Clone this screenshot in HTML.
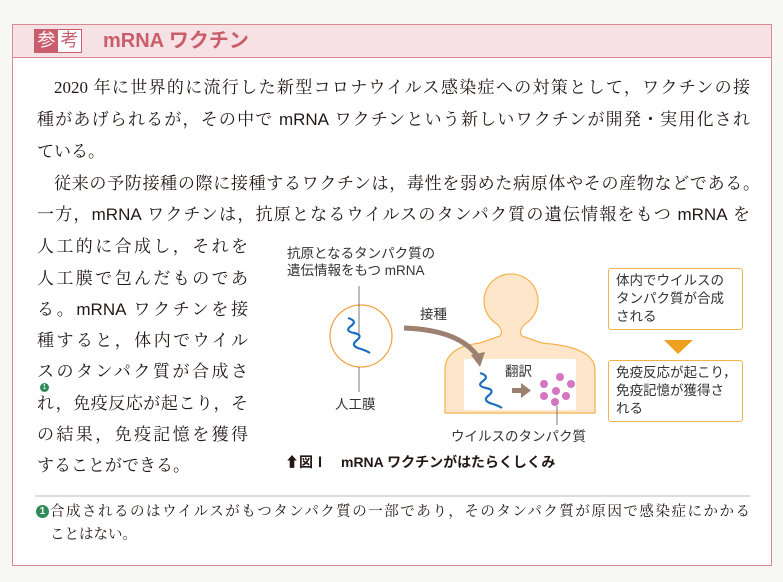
<!DOCTYPE html>
<html><head><meta charset="utf-8"><style>
body{margin:0;width:783px;height:582px;background:#f7f8f3;position:relative;overflow:hidden;font-family:"Liberation Serif","Noto Serif CJK JP",serif;color:#231815}
.box{position:absolute;left:12px;top:24px;width:760px;height:542px;background:#fff;border:1px solid #d98a92;box-sizing:border-box}
.hd{position:absolute;left:12px;top:24px;width:760px;height:34px;background:#f6e2e4;border:1px solid #d98a92;box-sizing:border-box}
.l{position:absolute;font-size:17px;line-height:20px;height:20px;white-space:nowrap;text-align:justify;text-align-last:justify;overflow:visible}
.s{font-family:"Liberation Sans","Noto Sans CJK JP",sans-serif}
.g{position:absolute;font-family:"Liberation Sans","Noto Sans CJK JP",sans-serif;font-size:13.5px;line-height:17px;color:#333;white-space:nowrap}
.fb{position:absolute;width:135px;height:62px;border:1.5px solid #f3b24a;border-radius:3px;box-sizing:border-box;background:#fff}
</style></head><body>
<div class="box"></div>
<div class="hd"></div>
<div style="position:absolute;left:34px;top:29px;width:48px;height:24px;border:1.5px solid #c95d6c;box-sizing:border-box;display:flex;font-family:'Liberation Sans','Noto Sans CJK JP',sans-serif;font-size:18px;line-height:21px;">
<span style="background:#c95d6c;color:#fff;width:23px;text-align:center">参</span><span style="color:#c95d6c;background:#fff;width:23px;text-align:center">考</span></div>
<div class="s" style="position:absolute;left:103px;top:27px;font-size:20px;font-weight:bold;color:#c95d6c;line-height:28px">mRNA ワクチン</div>

<div class="l" style="left:54px;top:78px;width:696px">2020 年に世界的に流行した新型コロナウイルス感染症への対策として，ワクチンの接</div>
<div class="l" style="left:37px;top:110px;width:713px">種があげられるが，その中で <span class="s">mRNA</span> ワクチンという新しいワクチンが開発・実用化され</div>
<div class="l" style="left:37px;top:142px;text-align:left;text-align-last:left">ている。</div>
<div class="l" style="left:54px;top:174px;width:706px">従来の予防接種の際に接種するワクチンは，毒性を弱めた病原体やその産物などである。</div>
<div class="l" style="left:37px;top:205px;width:713px">一方，<span class="s">mRNA</span> ワクチンは，抗原となるウイルスのタンパク質の遺伝情報をもつ <span class="s">mRNA</span> を</div>
<div class="l" style="left:37px;top:237px;width:211px">人工的に合成し，それを</div>
<div class="l" style="left:37px;top:269px;width:211px">人工膜で包んだものであ</div>
<div class="l" style="left:37px;top:300px;width:211px">る。<span class="s">mRNA</span> ワクチンを接</div>
<div class="l" style="left:37px;top:331px;width:211px">種すると，体内でウイル</div>
<div class="l" style="left:37px;top:362px;width:211px">スのタンパク質が合成さ</div>
<div style="position:absolute;left:40px;top:383px;width:9px;height:9px;border-radius:50%;background:#2e8b57;color:#fff;font-size:7px;line-height:9px;text-align:center;font-family:'Liberation Sans',sans-serif">1</div>
<div class="l" style="left:37px;top:394px;width:211px">れ，免疫反応が起こり，そ</div>
<div class="l" style="left:37px;top:425px;width:211px">の結果，免疫記憶を獲得</div>
<div class="l" style="left:37px;top:456px;text-align:left;text-align-last:left">することができる。</div>

<svg style="position:absolute;left:0;top:0" width="783" height="582">
<path d="M445,413 L445,370 Q445,347 480,343 L500,336 Q504,331 497,324 A27,27 0 1 1 525,324 Q518,331 522,336 L542,343 Q595,347 595,370 L595,413 Z" fill="#fde6c9" stroke="#f3b24a" stroke-width="1.2"/>
<rect x="464" y="359" width="112" height="51" rx="2" fill="#fff"/>
<circle cx="361" cy="336" r="31" fill="#fff" stroke="#f0a03c" stroke-width="1.2"/>
<line x1="359" y1="286" x2="359" y2="336" stroke="#555" stroke-width="0.8"/>
<line x1="359" y1="367" x2="359" y2="392" stroke="#555" stroke-width="0.8"/>
<path d="M348,318 q10,3 3,8 q-7,5 3,7 q10,2 2,8 q-6,5 5,8 q6,2 9,4" fill="none" stroke="#1a6fc0" stroke-width="2.2"/>
<path d="M480,373 q10,3 3,8 q-7,5 3,7 q10,2 2,8 q-6,5 5,8 q6,2 9,4" fill="none" stroke="#1a6fc0" stroke-width="2.2"/>
<path d="M404,328 Q460,330 478,357" fill="none" stroke="#9c8070" stroke-width="5"/>
<polygon points="471,355 485,352 480,367" fill="#9c8070"/>
<rect x="512" y="388" width="10" height="5" fill="#9c8070"/><polygon points="521,383 531,390.5 521,398" fill="#9c8070"/>
<g fill="#d675c0">
<circle cx="544" cy="384" r="4"/><circle cx="560" cy="377" r="4"/><circle cx="571" cy="384" r="4"/>
<circle cx="556" cy="391" r="4"/><circle cx="544" cy="396" r="4"/><circle cx="566" cy="396" r="4"/><circle cx="555" cy="402" r="4"/>
</g>
<line x1="557" y1="406" x2="557" y2="425" stroke="#555" stroke-width="0.8"/>
<polygon points="664,340 693,340 678,354" fill="#f0a020"/>
<line x1="35" y1="496" x2="750" y2="496" stroke="#bbb" stroke-width="1"/>
</svg>
<div class="g" style="left:287px;top:245px">抗原となるタンパク質の<br>遺伝情報をもつ mRNA</div>
<div class="g" style="left:420px;top:306px">接種</div>
<div class="g" style="left:335px;top:396px">人工膜</div>
<div class="g" style="left:505px;top:363px">翻訳</div>
<div class="g" style="left:451px;top:428px">ウイルスのタンパク質</div>
<div class="fb" style="left:608px;top:268px"></div>
<div class="g" style="left:616px;top:272px;line-height:18px">体内でウイルスの<br>タンパク質が合成<br>される</div>
<div class="fb" style="left:608px;top:360px"></div>
<div class="g" style="left:616px;top:364px;line-height:18px">免疫反応が起こり，<br>免疫記憶が獲得さ<br>れる</div>
<div class="g" style="left:285px;top:454px;font-weight:bold;font-size:14px;color:#231815">⬆図Ⅰ　mRNA ワクチンがはたらくしくみ</div>
<div style="position:absolute;left:36px;top:505px;width:13px;height:13px;border-radius:50%;background:#2e8b57;color:#fff;font-size:10px;line-height:13px;text-align:center;font-family:'Liberation Sans',sans-serif;font-weight:bold">1</div>
<div class="l" style="left:50px;top:502px;width:700px;font-size:14.5px">合成されるのはウイルスがもつタンパク質の一部であり，そのタンパク質が原因で感染症にかかる</div>
<div class="l" style="left:50px;top:525px;font-size:14.5px;text-align:left;text-align-last:left">ことはない。</div>
</body></html>
